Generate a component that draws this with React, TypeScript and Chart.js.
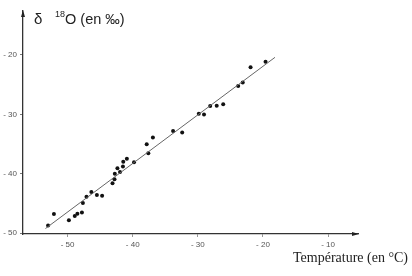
import React, { useEffect, useRef } from "react";
import { Chart, registerables } from "chart.js";

Chart.register(...registerables);

// Temperature (°C) of each sample
const temperature = [
  -53.0, -52.1, -49.8, -48.9, -48.5, -47.8, -47.65, -47.1, -46.35, -45.5,
  -44.7, -43.1, -42.8, -42.75, -42.35, -41.95, -41.5, -41.45, -40.9, -39.8,
  -37.85, -37.6, -36.9, -33.8, -32.4, -29.85, -29.05, -28.1, -27.1, -26.1,
  -23.8, -23.1, -21.9, -19.6,
];
// δ18O (‰) of each sample
const delta18O = [
  -48.7, -46.75, -47.8, -47.1, -46.7, -46.5, -44.9, -43.85, -43.05, -43.55,
  -43.7, -41.6, -40.9, -40.0, -39.05, -39.7, -38.75, -37.95, -37.45, -38.05,
  -35.0, -36.55, -33.9, -32.8, -33.05, -29.9, -30.0, -28.6, -28.55, -28.3,
  -25.2, -24.65, -22.05, -21.15,
];
// regression line end points
const fitTemperature = [-53.4, -18.15];
const fitDelta = [-49.2, -20.4];

const xTicks = [-50, -40, -30, -20, -10];
const yTicks = [-50, -40, -30, -20];

const yTitleMain = "δ";
const yTitleSup = "18";
const yTitleRest = "O (en ‰)";
const xTitle = "Température (en °C)";

const annotPlugin = {
  id: "annot",
  afterDraw(chart: any) {
    const { ctx, chartArea } = chart;
    ctx.save();
    ctx.fillStyle = "#222";
    // arrow heads
    const xl = chartArea.left;
    const yt = chartArea.top;
    ctx.beginPath();
    ctx.moveTo(xl, yt - 1);
    ctx.lineTo(xl - 2, yt + 6);
    ctx.lineTo(xl + 2, yt + 6);
    ctx.closePath();
    ctx.fill();
    const xr = chartArea.right;
    const yb = chartArea.bottom;
    ctx.beginPath();
    ctx.moveTo(xr + 1, yb);
    ctx.lineTo(xr - 6, yb - 2);
    ctx.lineTo(xr - 6, yb + 2);
    ctx.closePath();
    ctx.fill();
    // y title
    ctx.textBaseline = "alphabetic";
    ctx.textAlign = "left";
    ctx.font = '15px "Liberation Sans", Arial, sans-serif';
    ctx.fillText(yTitleMain, 34, 24);
    ctx.font = '9px "Liberation Sans", Arial, sans-serif';
    ctx.fillText(yTitleSup, 55, 17);
    ctx.font = '14.5px "Liberation Sans", Arial, sans-serif';
    ctx.fillText(yTitleRest, 65, 24);
    // x title
    ctx.font = '14px "Liberation Serif", "Times New Roman", serif';
    ctx.textAlign = "right";
    ctx.fillText(xTitle, 408, 262);
    ctx.restore();
  },
};

const fmt = (v: any) => "- " + Math.abs(Number(v));

export default function App() {
  const ref = useRef<HTMLCanvasElement | null>(null);

  useEffect(() => {
    if (!ref.current) return;
    const chart = new Chart(ref.current, {
      type: "scatter",
      data: {
        datasets: [
          {
            label: "fit",
            type: "line",
            data: fitTemperature.map((x, i) => ({ x, y: fitDelta[i] })),
            borderColor: "#666",
            borderWidth: 1,
            pointRadius: 0,
            fill: false,
          } as any,
          {
            label: "samples",
            data: temperature.map((x, i) => ({ x, y: delta18O[i] })),
            backgroundColor: "#111",
            borderColor: "#111",
            pointRadius: 2,
            borderWidth: 0,
          },
        ],
      },
      options: {
        animation: false,
        responsive: false,
        devicePixelRatio: 1,
        layout: { padding: { left: 0, right: 54, top: 11, bottom: 0 } },
        plugins: {
          legend: { display: false },
          tooltip: { enabled: false },
          title: { display: false },
        },
        scales: {
          x: {
            type: "linear",
            min: -56.85,
            max: -5.4,
            afterBuildTicks: (s: any) => {
              s.ticks = xTicks.map((v) => ({ value: v }));
            },
            afterFit: (s: any) => {
              s.height = 42;
            },
            ticks: {
              callback: fmt,
              font: { size: 8, family: '"Liberation Sans", Arial, sans-serif' },
              color: "#555",
              padding: 3,
              maxRotation: 0,
              autoSkip: false,
            },
            grid: {
              display: true,
              drawOnChartArea: false,
              drawTicks: true,
              tickLength: 3,
              tickColor: "#999",
            },
            border: { display: true, color: "#333", width: 1.3 },
          },
          y: {
            type: "linear",
            min: -50.12,
            max: -12.6,
            afterBuildTicks: (s: any) => {
              s.ticks = yTicks.map((v) => ({ value: v }));
            },
            afterFit: (s: any) => {
              s.width = 23;
            },
            ticks: {
              callback: fmt,
              font: { size: 8, family: '"Liberation Sans", Arial, sans-serif' },
              color: "#555",
              padding: 3,
              autoSkip: false,
            },
            grid: {
              display: true,
              drawOnChartArea: false,
              drawTicks: true,
              tickLength: 3,
              tickColor: "#777",
            },
            border: { display: true, color: "#333", width: 1.3 },
          },
        },
      },
      plugins: [annotPlugin],
    });
    return () => chart.destroy();
  }, []);

  return (
    <div style={{ position: "fixed", left: 0, top: 0, width: 412, height: 276, background: "#fff" }}>
      <canvas ref={ref} width={412} height={276} style={{ width: 412, height: 276, display: "block" }} />
    </div>
  );
}
